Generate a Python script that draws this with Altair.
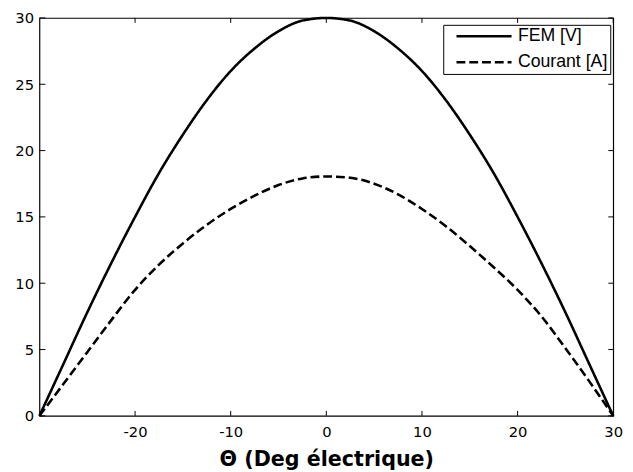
import altair as alt
import pandas as pd

# Angle (deg électrique)
theta = [-30, -27.5, -25, -22.5, -20, -17.5, -15, -12.5, -10, -7.5, -5, -2.5, 0,
         2.5, 5, 7.5, 10, 12.5, 15, 17.5, 20, 22.5, 25, 27.5, 30]
# FEM [V]
fem = [0, 3.9, 7.8, 11.5, 15.0, 18.3, 21.2, 23.8, 26.0, 27.7, 29.0, 29.8, 30.0,
       29.8, 29.0, 27.7, 26.0, 23.8, 21.2, 18.3, 15.0, 11.5, 7.8, 3.9, 0]
# Courant [A]
courant = [0, 2.4, 4.8, 7.2, 9.5, 11.4, 13.0, 14.4, 15.6, 16.6, 17.4, 17.9, 18.05,
           17.95, 17.5, 16.7, 15.6, 14.3, 12.8, 11.2, 9.5, 7.5, 5.1, 2.6, 0]

series_names = ["FEM [V]", "Courant [A]"]
x_ticks = [-20, -10, 0, 10, 20, 30]
y_ticks = [0, 5, 10, 15, 20, 25, 30]

n = len(theta)
df = pd.DataFrame({
    "theta": theta + theta,
    "value": fem + courant,
    "serie": [series_names[0]] * n + [series_names[1]] * n,
})
xt = pd.DataFrame({"t": x_ticks})
yt = pd.DataFrame({"t": y_ticks})

W, H = 584, 405
xscale = alt.Scale(domain=[-30, 30], nice=False, zero=False)
yscale = alt.Scale(domain=[0, 30], nice=False, zero=False)

xaxis = alt.Axis(values=x_ticks, title="Θ (Deg électrique)", ticks=False,
                 domain=False, grid=False, labelFlush=False, labelPadding=9,
                 labelExpr="'' + datum.value",
                 labelFont="DejaVu Sans", labelFontSize=15, labelColor="black",
                 titleFont="DejaVu Sans", titleFontSize=21, titleFontWeight="bold",
                 titleColor="black", titlePadding=10)
yaxis = alt.Axis(values=y_ticks, title=None, ticks=False, domain=False,
                 grid=False, labelFlush=False, labelPadding=6,
                 labelFont="DejaVu Sans", labelFontSize=15, labelColor="black")

lines = alt.Chart(df).mark_line(color="black", strokeWidth=2.6, interpolate="monotone").encode(
    x=alt.X("theta:Q", scale=xscale, axis=xaxis),
    y=alt.Y("value:Q", scale=yscale, axis=yaxis),
    strokeDash=alt.StrokeDash(
        "serie:N",
        scale=alt.Scale(domain=series_names, range=[[1, 0], [9, 4]]),
        legend=alt.Legend(title=None, orient="none", legendX=411, legendY=7,
                          symbolType="stroke", symbolSize=3136, symbolStrokeWidth=2.6,
                          symbolStrokeColor="black", clipHeight=19.2, rowPadding=6.5,
                          padding=2, symbolOffset=10, labelOffset=5,
                          labelFont="Liberation Sans", labelFontSize=18, labelColor="black",
                          labelLimit=300, strokeColor="black", fillColor="white"),
    ),
)

tick_len = 5
bottom_ticks = alt.Chart(xt).mark_rule(color="black", strokeWidth=1).encode(
    x=alt.X("t:Q", scale=xscale, axis=xaxis), y=alt.value(H), y2=alt.value(H - tick_len))
top_ticks = alt.Chart(xt).mark_rule(color="black", strokeWidth=1).encode(
    x=alt.X("t:Q", scale=xscale, axis=xaxis), y=alt.value(0), y2=alt.value(tick_len))
left_ticks = alt.Chart(yt).mark_rule(color="black", strokeWidth=1).encode(
    y=alt.Y("t:Q", scale=yscale, axis=yaxis), x=alt.value(0), x2=alt.value(tick_len + 1))
right_ticks = alt.Chart(yt).mark_rule(color="black", strokeWidth=1).encode(
    y=alt.Y("t:Q", scale=yscale, axis=yaxis), x=alt.value(W), x2=alt.value(W - tick_len))

chart = alt.layer(lines, bottom_ticks, top_ticks, left_ticks, right_ticks).properties(
    width=W, height=H,
    autosize=alt.AutoSizeParams(type="none"),
    padding={"left": 32, "top": 6, "right": 12, "bottom": 52},
    background="white",
).configure_view(stroke="black", strokeWidth=1.2)

chart.save("out.html", embed_options={"renderer": "svg", "actions": False})
